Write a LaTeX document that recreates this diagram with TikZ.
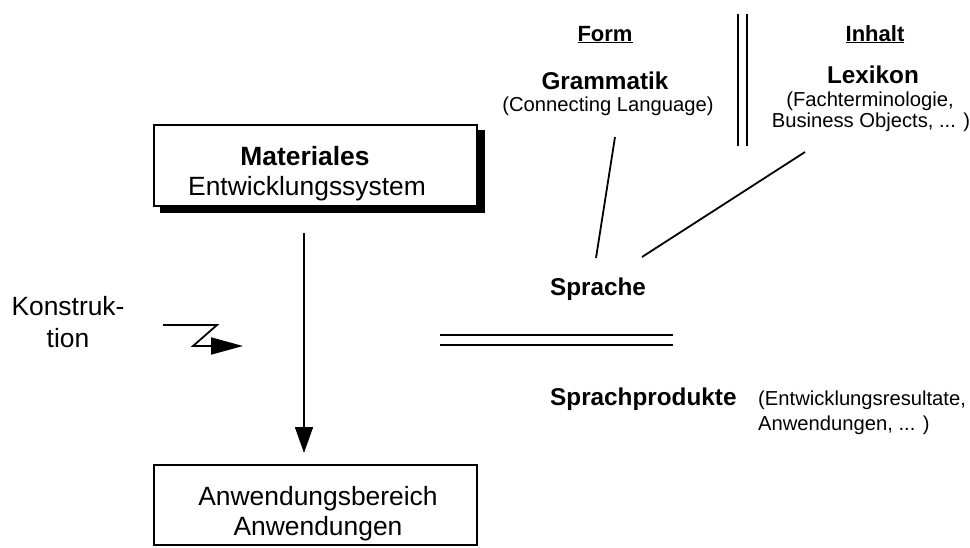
\documentclass[tikz,border=0pt]{standalone}
\usepackage{fontspec}
\setmainfont{Liberation Sans}
\usetikzlibrary{arrows.meta}
\newcommand\fsBig{\fontsize{26.4}{30}\selectfont}
\newcommand\fsMid{\fontsize{24.3}{28}\selectfont}
\newcommand\fsHead{\fontsize{22}{26}\selectfont}
\newcommand\fsSmall{\fontsize{20.2}{24}\selectfont}
\begin{document}
\begin{tikzpicture}[x=1pt,y=-1pt,
  txt/.style={inner sep=0pt, anchor=base},
  txtw/.style={inner sep=0pt, anchor=base west},
  boxline/.style={line width=1.6pt},
  conn/.style={line width=1.8pt},
  dbl/.style={line width=2pt}]
\useasboundingbox (0,0) rectangle (970,547);
% Materiales box with shadow
\fill[black] (160,130) rectangle (485,213);
\filldraw[boxline, fill=white] (154,125) rectangle (477,206);
\node[txt] (mat) at (305,165) {\fsBig\bfseries Materiales};
\node[txt] (ent) at (307,195) {\fsBig Entwicklungssystem};
% Anwendungen box
\draw[boxline] (154,465) rectangle (477,545);
\node[txt] (anwb) at (318,505) {\fsBig Anwendungsbereich};
\node[txt] (anw) at (318,535) {\fsBig Anwendungen};
% vertical arrow
\coordinate (a1) at (304,233);
\coordinate (a2) at (304,453);
\draw[conn, -{Triangle[length=26pt,width=18pt]}] (a1) -- (a2);
% Konstruktion
\node[txt] (kon1) at (68,315) {\fsBig Konstruk-};
\node[txt] (kon2) at (68,347) {\fsBig tion};
\coordinate (k1) at (163,325);
\coordinate (k2) at (217,325);
\coordinate (k3) at (193,346);
\coordinate (k4) at (243,346);
\draw[conn, line join=miter, -{Triangle[length=32pt,width=17pt]}] (k1) -- (k2) -- (k3) -- (k4);
% double horizontal line
\coordinate (h1) at (440,335); \coordinate (h2) at (673,335);
\coordinate (h3) at (440,345); \coordinate (h4) at (673,345);
\draw[dbl] (h1) -- (h2);
\draw[dbl] (h3) -- (h4);
% Sprache
\node[txt] (spr) at (598,295) {\fsMid\bfseries Sprache};
\node[txtw] (sprp) at (550,405) {\fsMid\bfseries Sprachprodukte};
\node[txtw] (sprp1) at (758,405) {\fsSmall (Entwicklungsresultate,};
\node[txtw] (sprp2) at (758,430) {\fsSmall Anwendungen, ... )};
% Form column
\node[txt] (form) at (605,41) {\fsHead\bfseries\underline{Form}};
\node[txt] (gram) at (605,89) {\fsMid\bfseries Grammatik};
\node[txt] (conl) at (608,111) {\fsSmall (Connecting Language)};
% Inhalt column
\node[txt] (inh) at (875,41) {\fsHead\bfseries\underline{Inhalt}};
\node[txt] (lex) at (873,83) {\fsMid\bfseries Lexikon};
\node[txt] (fach) at (870,106) {\fsSmall (Fachterminologie,};
\node[txt] (bus) at (871,127) {\fsSmall Business Objects, ... )};
% vertical double line
\coordinate (v1) at (738,14); \coordinate (v2) at (738,146);
\coordinate (v3) at (747,14); \coordinate (v4) at (747,146);
\draw[dbl] (v1) -- (v2);
\draw[dbl] (v3) -- (v4);
% lines to Sprache
\coordinate (g1) at (615,137); \coordinate (g2) at (596,258);
\coordinate (l1) at (805,152); \coordinate (l2) at (642,257);
\draw[conn] (g1) -- (g2);
\draw[conn] (l1) -- (l2);
\end{tikzpicture}
\end{document}
